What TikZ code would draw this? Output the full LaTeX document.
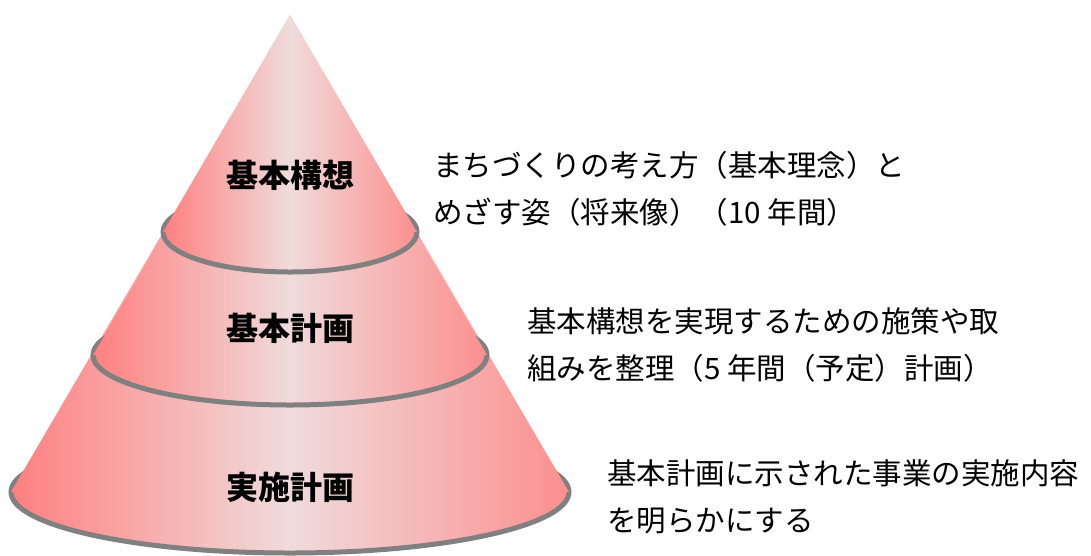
\documentclass[tikz,border=0pt]{standalone}
\usepackage{fontspec}
\setmainfont{Noto Sans CJK JP}
\definecolor{ringgray}{RGB}{128,128,128}
\pgfdeclarehorizontalshading{coneshade}{100bp}{%
  rgb(0bp)=(1,0.50,0.50); rgb(25bp)=(1,0.50,0.50); rgb(50bp)=(0.94,0.86,0.86);
  rgb(75bp)=(0.99,0.56,0.56); rgb(100bp)=(0.99,0.56,0.56)}
\begin{document}
\begin{tikzpicture}[x=1pt, y=-1pt,
    layer/.style = {shading=coneshade},
    ring/.style = {layer, draw=ringgray, line width=5pt},
    tier/.style = {font=\fontsize{32}{32}\selectfont\bfseries, inner sep=0pt},
    desc/.style = {font=\fontsize{29.5}{46.5}\selectfont, align=left, anchor=west, inner sep=0pt}]
    \useasboundingbox (0,0) rectangle (1091,555);
    \coordinate (apex) at (290,15);
    % bottom layer
    \coordinate (jisshi) at (290,492);
    \draw[ring] (jisshi) ellipse [x radius=279pt, y radius=61pt];
    \path[layer] (apex) -- (11,492) -- (569,492) -- cycle;
    % middle layer
    \coordinate (keikaku) at (290,355);
    \draw[ring] (keikaku) ellipse [x radius=197pt, y radius=50pt];
    \path[layer] (apex) -- (93,355) -- (487,355) -- cycle;
    % top layer
    \coordinate (kousou) at (290,232);
    \draw[ring] (kousou) ellipse [x radius=127pt, y radius=40pt];
    \path[layer] (apex) -- (163,232) -- (417,232) -- cycle;
    % labels
    \node[tier] (kousoulabel) at (290,175) {基本構想};
    \node[tier] (keikakulabel) at (290,328) {基本計画};
    \node[tier] (jisshilabel) at (290,487) {実施計画};
    \node[desc] (kousoutext) at (433,189) {まちづくりの考え方（基本理念）と\\めざす姿（将来像）（10 年間）};
    \node[desc] (keikakutext) at (527,345) {基本構想を実現するための施策や取\\組みを整理（5 年間（予定）計画）};
    \node[desc] (jisshitext) at (607,497) {基本計画に示された事業の実施内容\\を明らかにする};
\end{tikzpicture}
\end{document}
